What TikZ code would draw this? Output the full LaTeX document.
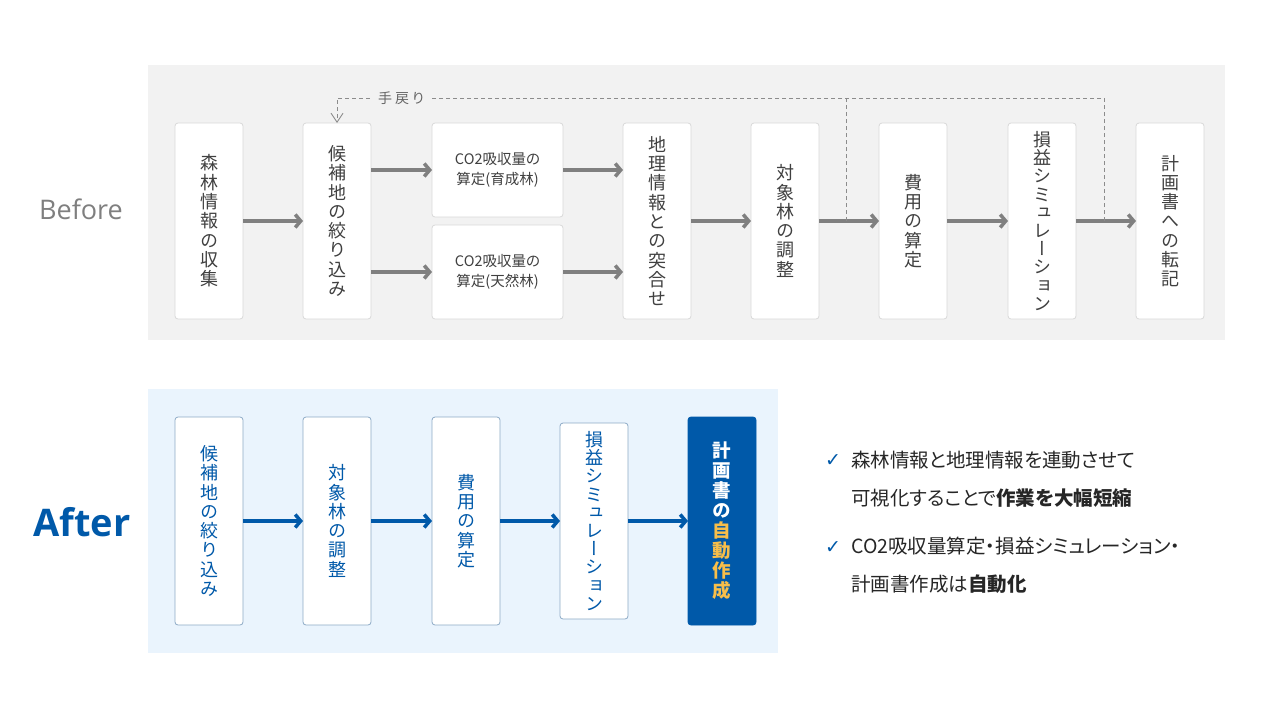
\documentclass[tikz,border=0pt]{standalone}
\usepackage{fontspec}
\setmainfont{Noto Sans CJK JP}[RawFeature=+palt]
\newfontfamily\vfont{Noto Sans CJK JP}[RawFeature=+vert]
\newfontfamily\latinfont{Open Sans}
\newfontfamily\checkfont{DejaVu Sans}
\usetikzlibrary{positioning,arrows.meta,calc}
\definecolor{bggray}{HTML}{F2F2F2}
\definecolor{bgblue}{HTML}{EAF4FD}
\definecolor{linegray}{HTML}{D9D9D9}
\definecolor{lineblue}{HTML}{8DAAC6}
\definecolor{mainblue}{HTML}{0059A9}
\definecolor{gold}{HTML}{F7BE4A}
\definecolor{arrowgray}{HTML}{808080}
\definecolor{dashgray}{HTML}{8C8C8C}
\definecolor{textgray}{HTML}{404040}
\definecolor{labelgray}{HTML}{7F7F7F}
\definecolor{bodytext}{HTML}{262626}
\tikzset{
  stepbox/.style={rectangle, rounded corners=3pt, draw=linegray, fill=white, line width=0.8pt, outer sep=0pt, minimum width=68pt, minimum height=196pt, inner sep=0pt, align=center, text=textgray, font=\vfont\fontsize{18}{19.3}\selectfont},
  longtext/.style={font=\vfont\fontsize{18}{18.2}\selectfont},
  co2box/.style={stepbox, minimum width=131pt, minimum height=94pt, font=\fontsize{14.5}{20}\selectfont},
  newbox/.style={stepbox, draw=lineblue, minimum height=208pt, text=mainblue},
  autobox/.style={newbox, draw=mainblue, fill=mainblue, text=white, font=\vfont\bfseries\fontsize{18.5}{20}\selectfont},
  arrow/.style={line width=3.5pt, draw=arrowgray, -{Straight Barb[length=5.5pt,width=13pt]}},
  bluearrow/.style={arrow, draw=mainblue},
  rework/.style={draw=dashgray, line width=0.9pt, dash pattern=on 4pt off 3pt},
  tick/.style={font=\checkfont\fontsize{19}{19}\selectfont, text=mainblue, inner sep=0pt},
  point/.style={anchor=north west, align=left, inner sep=0pt, text=bodytext, font=\fontsize{19.5}{38}\selectfont}
}
\begin{document}
\begin{tikzpicture}[x=1pt,y=-1pt]
\useasboundingbox (0,0) rectangle (1280,720);
\fill[bggray] (148,65) rectangle (1225,340);
\fill[bgblue] (148,389) rectangle (778,653);

\node (before) at (81,209) [font=\latinfont\fontsize{27}{27}\selectfont, text=labelgray] {Before};
\node (after) at (82,522) [font=\latinfont\bfseries\fontsize{38}{38}\selectfont, text=mainblue] {After};

% current workflow
\node (collect) at (209,221) [stepbox] {森\\林\\情\\報\\の\\収\\集};
\node (narrow) [stepbox, right=60pt of collect] {候\\補\\地\\の\\絞\\り\\込\\み};
\node (co2plant) [co2box, right=61pt of narrow.north east, anchor=north west] {CO2吸収量の\\算定(育成林)};
\node (co2nat) [co2box, below=8pt of co2plant] {CO2吸収量の\\算定(天然林)};
\node (gis) [stepbox, right=60pt of co2plant.north east, anchor=north west] {地\\理\\情\\報\\と\\の\\突\\合\\せ};
\node (adjust) [stepbox, right=60pt of gis] {対\\象\\林\\の\\調\\整};
\node (cost) [stepbox, right=60pt of adjust] {費\\用\\の\\算\\定};
\node (sim) [stepbox, longtext, right=61pt of cost] {損\\益\\シ\\ミ\\ュ\\レ\\ー\\シ\\ョ\\ン};
\node (transcribe) [stepbox, right=60pt of sim] {計\\画\\書\\へ\\の\\転\\記};

\draw [arrow] (collect) -- (narrow);
\draw [arrow] (narrow.east |- co2plant) -- (co2plant);
\draw [arrow] (narrow.east |- co2nat) -- (co2nat);
\draw [arrow] (co2plant) -- (co2plant -| gis.west);
\draw [arrow] (co2nat) -- (co2nat -| gis.west);
\draw [arrow] (gis) -- (adjust);
\draw [arrow] (adjust) -- (cost);
\draw [arrow] (cost) -- (sim);
\draw [arrow] (sim) -- (transcribe);

% rework loop
\coordinate (split1) at ($(adjust.east)!0.45!(cost.west)$);
\coordinate (split2) at ($(sim.east)!0.47!(transcribe.west)$);
\node (reworklabel) at (401,98) [font=\fontsize{14}{14}\selectfont, text=textgray!80, inner xsep=8pt] {手\hspace{3pt}戻\hspace{3pt}り};
\draw [rework] (split2) |- (reworklabel.east);
\draw [rework] (split1) -- (split1 |- reworklabel.east);
\draw [rework, -{Straight Barb[length=9pt,width=12pt]}] (reworklabel.west) -| (narrow.north);

% new workflow
\node (anarrow) at (209,521) [newbox] {候\\補\\地\\の\\絞\\り\\込\\み};
\node (aadjust) [newbox, right=60pt of anarrow] {対\\象\\林\\の\\調\\整};
\node (acost) [newbox, right=61pt of aadjust] {費\\用\\の\\算\\定};
\node (asim) [newbox, longtext, minimum height=196pt, right=60pt of acost] {損\\益\\シ\\ミ\\ュ\\レ\\ー\\シ\\ョ\\ン};
\node (aplan) [autobox, right=60pt of asim] {計\\画\\書\\の\\\textcolor{gold}{自}\\\textcolor{gold}{動}\\\textcolor{gold}{作}\\\textcolor{gold}{成}};

\draw [bluearrow] (anarrow) -- (aadjust);
\draw [bluearrow] (aadjust) -- (acost);
\draw [bluearrow] (acost) -- (asim);
\draw [bluearrow] (asim) -- (aplan);

% effects
\node (tick1) at (833,461) [tick] {✓};
\node (point1) at (851,451) [point] {森林情報と地理情報を連動させて\\可視化することで\textbf{作業を大幅短縮}};
\node (tick2) at (833,548) [tick] {✓};
\node (point2) at (851,537) [point] {CO2吸収量算定・損益シミュレーション・\\計画書作成は\textbf{自動化}};
\end{tikzpicture}
\end{document}
